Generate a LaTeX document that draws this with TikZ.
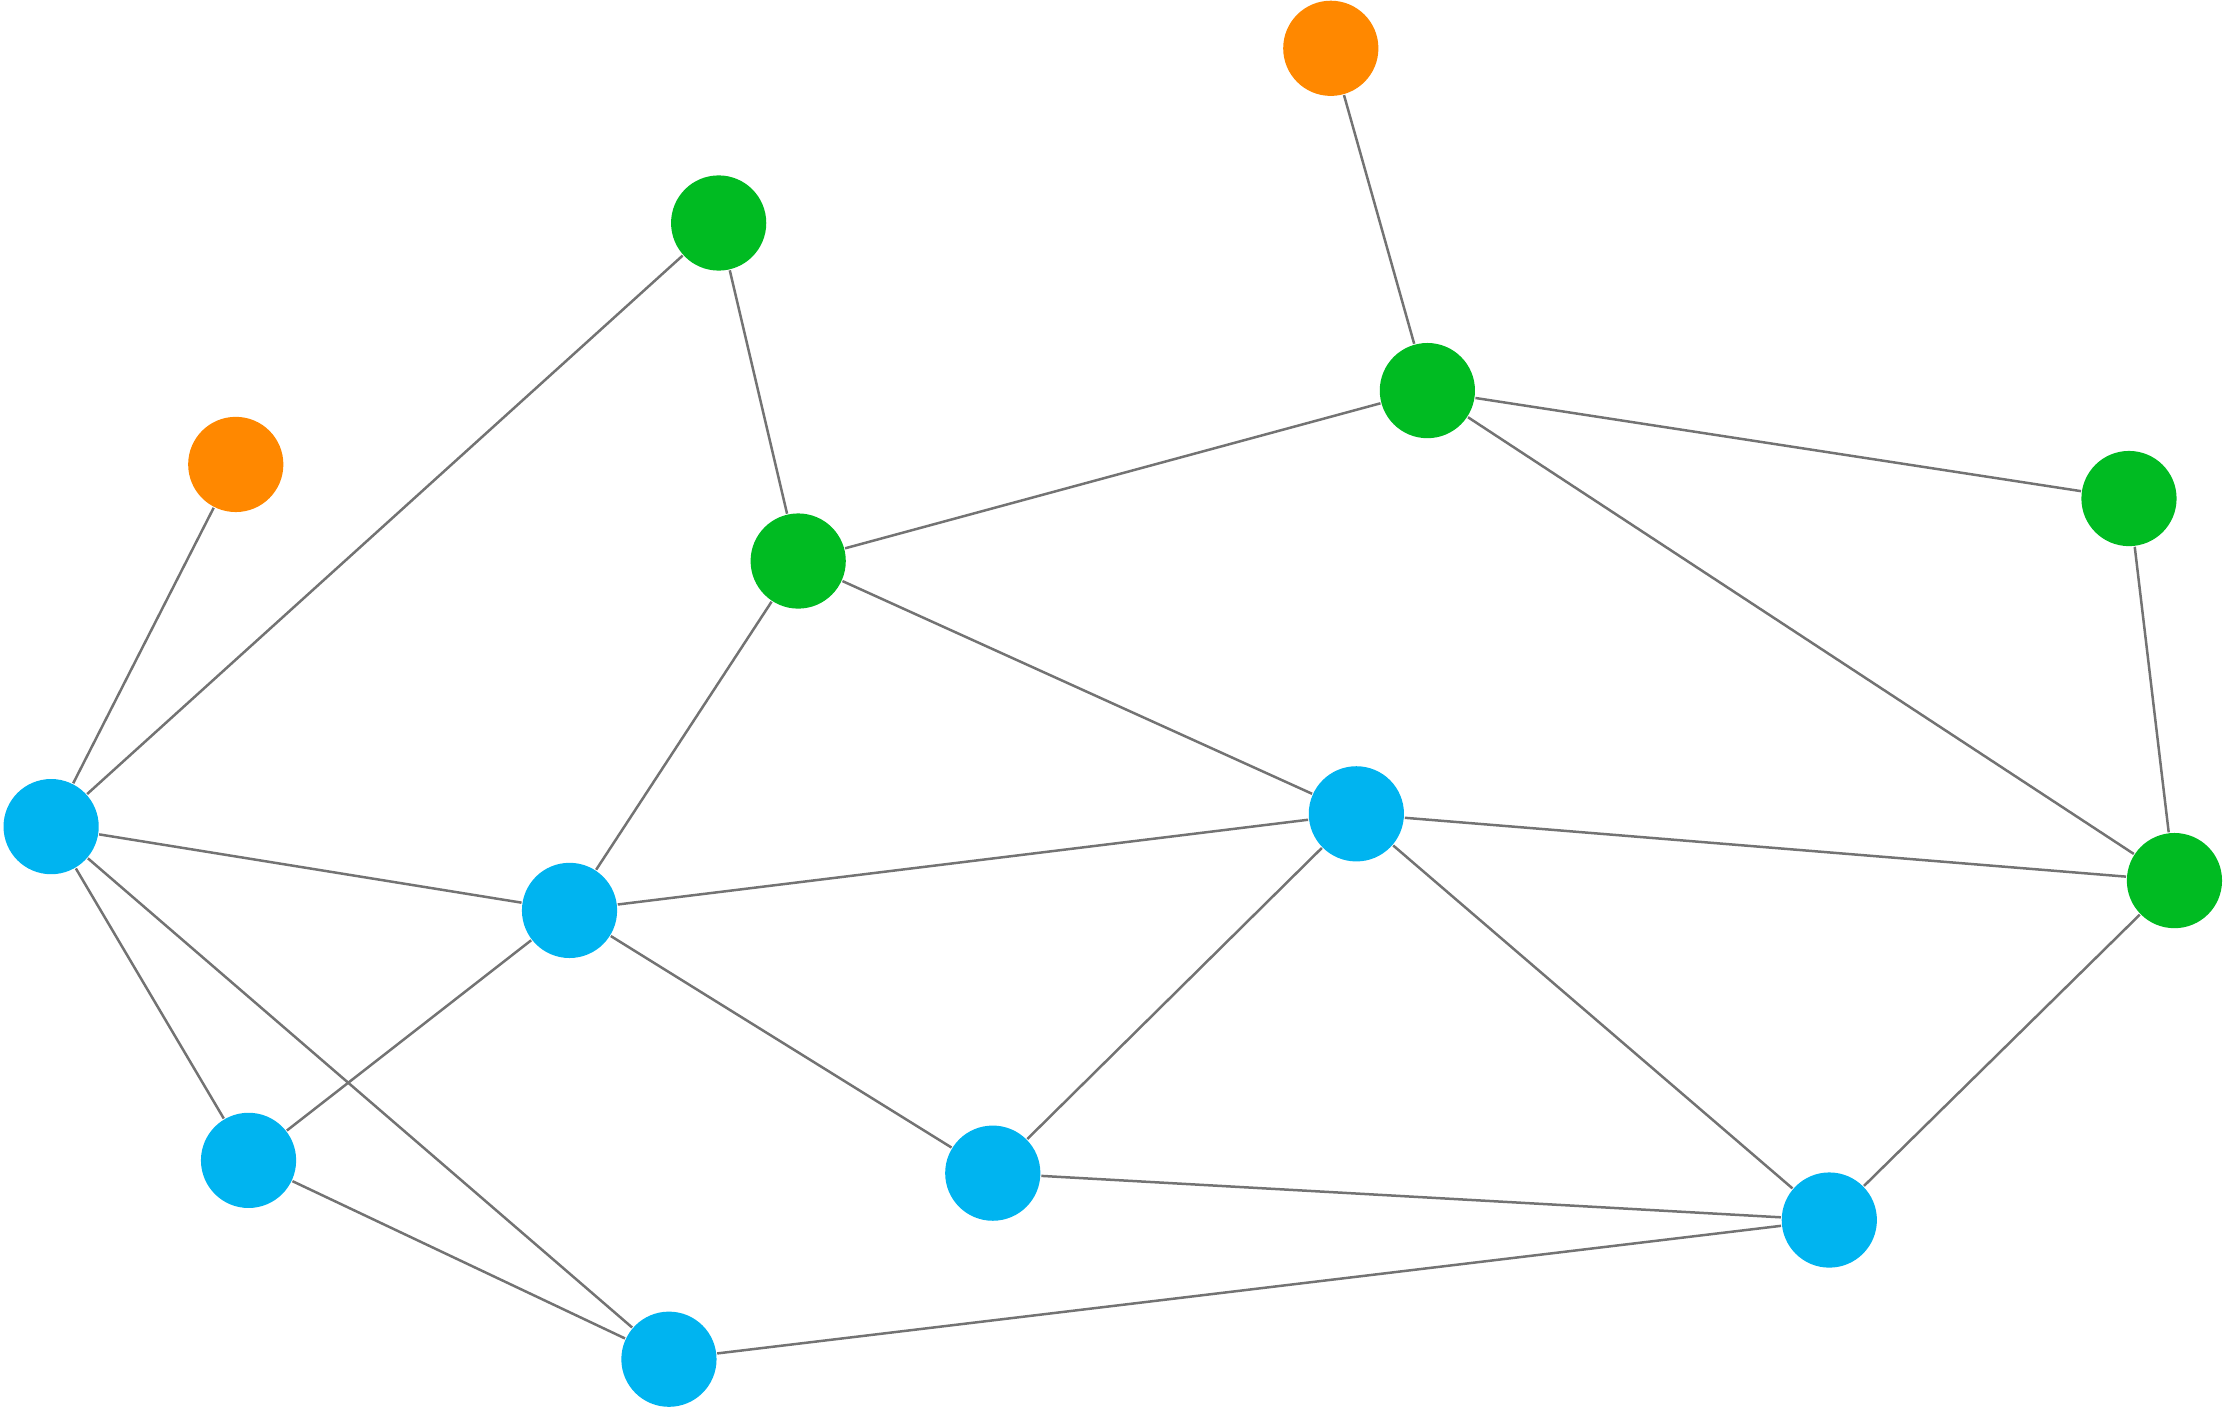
\documentclass[tikz,border=0pt]{standalone}
\usepackage{tikz}
\definecolor{nodeorange}{RGB}{255,136,0}
\definecolor{nodegreen}{RGB}{0,187,34}
\definecolor{nodeblue}{RGB}{0,180,240}
\begin{document}
\begin{tikzpicture}[
            x=0.01cm, y=-0.01cm,
            dot/.style={circle, minimum size=0.67cm, inner sep=0pt},
            hub/.style={dot, fill=nodeorange},
            leaf/.style={dot, fill=nodegreen},
            core/.style={dot, fill=nodeblue},
            link/.style={draw=black!55, line width=0.5pt}
        ]
            \useasboundingbox (0,0) rectangle (1568,993);
            \node[hub] (o1) at (937,34) {};
            \node[hub] (o2) at (166,327) {};
            \node[leaf] (g1) at (506,157) {};
            \node[leaf] (g2) at (1005,275) {};
            \node[leaf] (g3) at (1499,351) {};
            \node[leaf] (g4) at (562,395) {};
            \node[leaf] (g5) at (1531,620) {};
            \node[core] (b1) at (36,582) {};
            \node[core] (b2) at (401,641) {};
            \node[core] (b3) at (955,573) {};
            \node[core] (b4) at (175,817) {};
            \node[core] (b5) at (699,826) {};
            \node[core] (b6) at (1288,859) {};
            \node[core] (b7) at (471,957) {};

            \foreach \a/\b in {o1/g2, g1/b1, g1/g4, o2/b1, g4/g2, g2/g3, g2/g5,
                               g3/g5, g4/b3, g4/b2, b1/b2, b1/b4, b1/b7, b2/b3,
                               b2/b4, b2/b5, b3/g5, b3/b5, b3/b6, b5/b6, b6/g5,
                               b4/b7, b7/b6}
                \draw[link] (\a) -- (\b);
        \end{tikzpicture}
\end{document}
